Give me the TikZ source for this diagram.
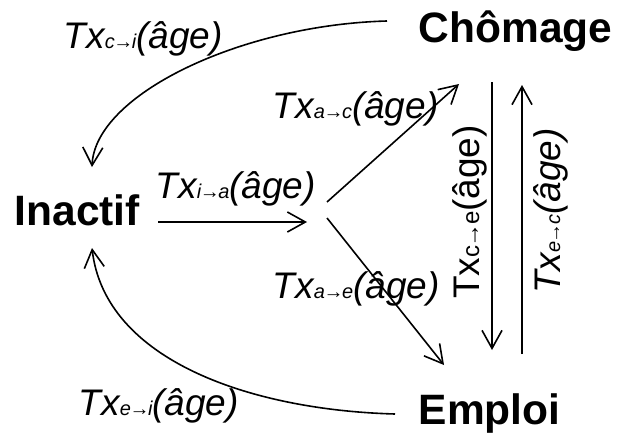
\documentclass[tikz,border=0pt]{standalone}
\usepackage{fontspec}
\setmainfont{Liberation Sans}
\usetikzlibrary{arrows.meta}
\newcommand\subs[1]{{\fontsize{20pt}{20pt}\selectfont #1}}
\newcommand\ar{\kern-1.5pt→\kern-1.5pt}
\begin{document}
\begin{tikzpicture}[x=1pt,y=-1pt,line width=1.6pt,
  state/.style={font=\fontsize{42.5pt}{43pt}\selectfont\bfseries,inner sep=0pt,anchor=base west},
  lab/.style={font=\fontsize{37pt}{38pt}\selectfont\itshape,inner sep=0pt,anchor=base west},
  vlab/.style={font=\fontsize{37pt}{38pt}\selectfont,inner sep=0pt,anchor=base,rotate=90},
  arr/.style={-{Straight Barb[length=18pt,width=20pt,line width=1.6pt]}}]
\useasboundingbox (0,0) rectangle (620,434);
% states
\node[state] (ch) at (418,42) {Chômage};
\node[state] (in) at (14,225) {Inactif};
\node[state] (em) at (418,424) {Emploi};
% labels
\node[lab] (lci) at (63,48) {Tx\subs{c\ar i}(âge)};
\node[lab] (lia) at (155,198) {Tx\subs{i\ar a}(âge)};
\node[lab] (lac) at (272,118) {Tx\subs{a\ar c}(âge)};
\node[lab] (lae) at (272,298) {Tx\subs{a\ar e}(âge)};
\node[lab] (lei) at (78,415) {Tx\subs{e\ar i}(âge)};
\node[vlab] (lce) at (479,212) {Tx{\fontsize{24pt}{24pt}\selectfont c\ar e}(âge)};
\node[vlab,font=\fontsize{37pt}{38pt}\selectfont\itshape] (lec) at (560,211) {Tx\subs{e\ar c}(âge)};
% connector ends
\coordinate (c1s) at (387,21);
\coordinate (c1e) at (92,167);
\coordinate (c2s) at (395,414);
\coordinate (c2e) at (92,248);
\coordinate (hs) at (158,222);
\coordinate (he) at (307,222);
\coordinate (bus) at (327,202);
\coordinate (bue) at (459,84);
\coordinate (bds) at (327,218);
\coordinate (bde) at (444,365);
\coordinate (vds) at (492,82);
\coordinate (vde) at (492,350);
\coordinate (vus) at (522,354);
\coordinate (vue) at (522,85);
% connectors
\draw[arr] (c1s) .. controls (240,25) and (95,95) .. (c1e);
\draw[arr] (c2s) .. controls (250,410) and (105,360) .. (c2e);
\draw[arr] (hs) -- (he);
\draw[arr] (bus) -- (bue);
\draw[arr] (bds) -- (bde);
\draw[arr] (vds) -- (vde);
\draw[arr] (vus) -- (vue);
\end{tikzpicture}
\end{document}
